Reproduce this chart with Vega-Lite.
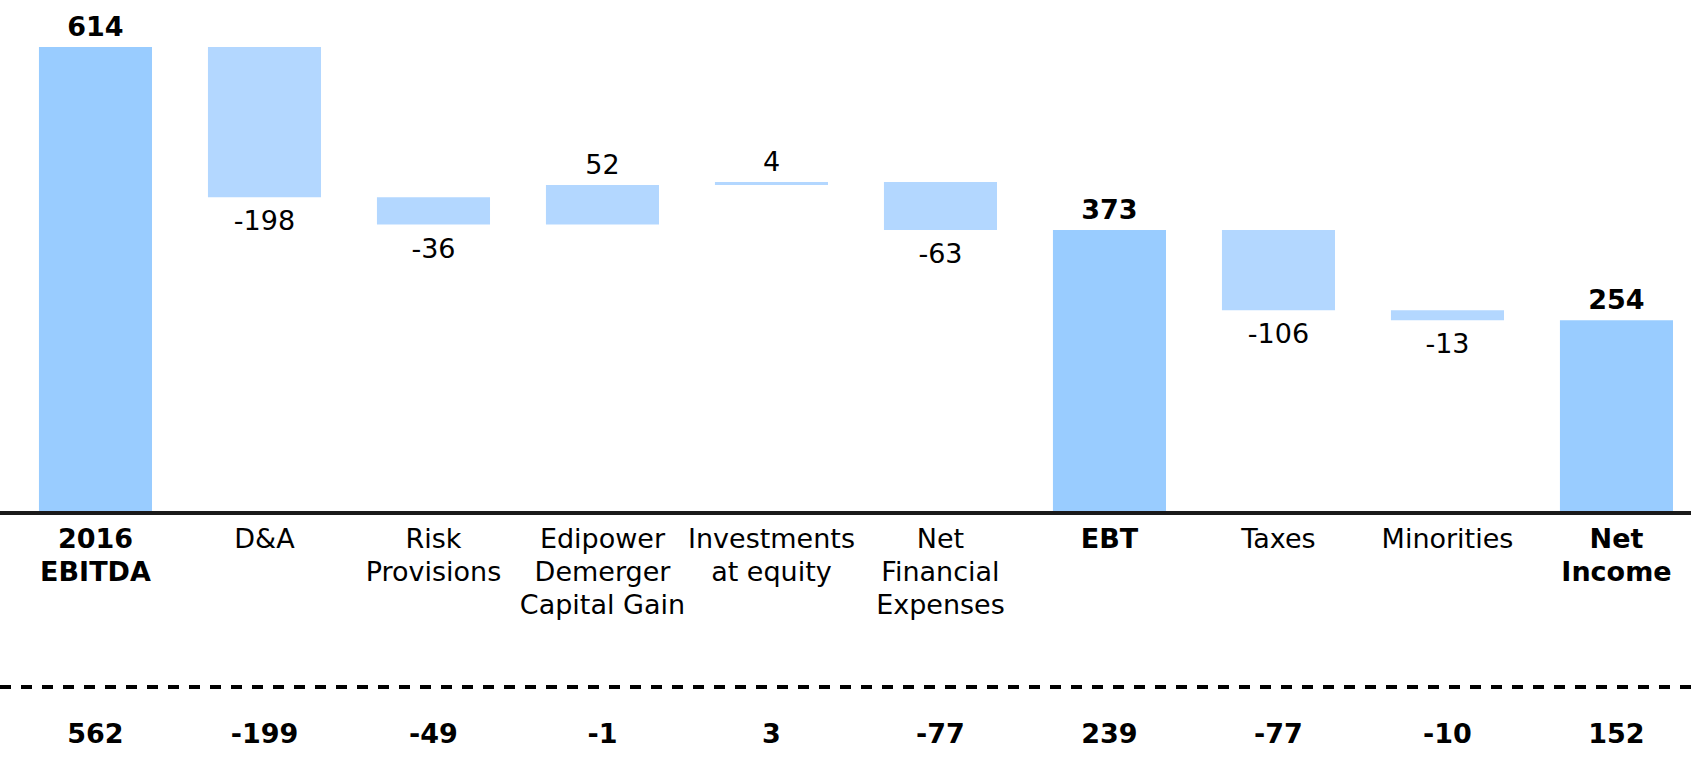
{
  "$schema": "https://vega.github.io/schema/vega-lite/v6.json",
  "width": 1691,
  "height": 769,
  "autosize": {"type": "none"},
  "padding": 0,
  "background": "white",
  "config": {
    "view": {"stroke": null},
    "text": {"font": "DejaVu Sans", "fontSize": 27, "color": "#000000"}
  },
  "data": {"values": [
      {"cat": "2016 EBITDA", "lab": "2016\nEBITDA", "start": 0, "end": 614, "val": "614", "prev": "562", "kind": "total", "sign": "pos"},
      {"cat": "D&A", "lab": "D&A", "start": 614, "end": 416, "val": "-198", "prev": "-199", "kind": "delta", "sign": "neg"},
      {"cat": "Risk Provisions", "lab": "Risk\nProvisions", "start": 416, "end": 380, "val": "-36", "prev": "-49", "kind": "delta", "sign": "neg"},
      {"cat": "Edipower Demerger Capital Gain", "lab": "Edipower\nDemerger\nCapital Gain", "start": 380, "end": 432, "val": "52", "prev": "-1", "kind": "delta", "sign": "pos"},
      {"cat": "Investments at equity", "lab": "Investments\nat equity", "start": 432, "end": 436, "val": "4", "prev": "3", "kind": "delta", "sign": "pos"},
      {"cat": "Net Financial Expenses", "lab": "Net\nFinancial\nExpenses", "start": 436, "end": 373, "val": "-63", "prev": "-77", "kind": "delta", "sign": "neg"},
      {"cat": "EBT", "lab": "EBT", "start": 0, "end": 373, "val": "373", "prev": "239", "kind": "total", "sign": "pos"},
      {"cat": "Taxes", "lab": "Taxes", "start": 373, "end": 267, "val": "-106", "prev": "-77", "kind": "delta", "sign": "neg"},
      {"cat": "Minorities", "lab": "Minorities", "start": 267, "end": 254, "val": "-13", "prev": "-10", "kind": "delta", "sign": "neg"},
      {"cat": "Net Income", "lab": "Net\nIncome", "start": 0, "end": 254, "val": "254", "prev": "152", "kind": "total", "sign": "pos"}
  ]},
  "layer": [
    {
      "mark": {"type": "bar"},
      "encoding": {
        "x": {"field": "cat", "type": "nominal", "sort": null, "axis": null,
              "scale": {"paddingInner": 0.331, "paddingOuter": 0.1685, "align": 0.684}},
        "y": {"field": "start", "type": "quantitative", "axis": null,
              "scale": {"domain": [-337.3, 675.9], "nice": false, "zero": false}},
        "y2": {"field": "end"},
        "color": {"field": "kind", "type": "nominal", "legend": null,
                  "scale": {"domain": ["total", "delta"], "range": ["#99CCFF", "#B3D7FF"]}}
      }
    },
    {
      "mark": {"type": "text", "fontWeight": "bold", "baseline": "alphabetic", "dy": -11},
      "encoding": {
        "x": {"field": "cat", "type": "nominal", "sort": null},
        "y": {"field": "end", "type": "quantitative"},
        "text": {"condition": {"test": "datum.kind === 'total'", "field": "val"}, "value": ""}
      }
    },
    {
      "mark": {"type": "text", "baseline": "alphabetic", "dy": -11},
      "encoding": {
        "x": {"field": "cat", "type": "nominal", "sort": null},
        "y": {"field": "end", "type": "quantitative"},
        "text": {"condition": {"test": "datum.kind === 'delta' && datum.sign === 'pos'", "field": "val"}, "value": ""}
      }
    },
    {
      "mark": {"type": "text", "baseline": "alphabetic", "dy": 33},
      "encoding": {
        "x": {"field": "cat", "type": "nominal", "sort": null},
        "y": {"field": "end", "type": "quantitative"},
        "text": {"condition": {"test": "datum.kind === 'delta' && datum.sign === 'neg'", "field": "val"}, "value": ""}
      }
    },
    {
      "mark": {"type": "text", "fontWeight": "bold", "baseline": "alphabetic", "dy": 35, "lineBreak": "\n", "lineHeight": 33},
      "encoding": {
        "x": {"field": "cat", "type": "nominal", "sort": null},
        "y": {"datum": 0},
        "text": {"condition": {"test": "datum.kind === 'total'", "field": "lab"}, "value": ""}
      }
    },
    {
      "mark": {"type": "text", "baseline": "alphabetic", "dy": 35, "lineBreak": "\n", "lineHeight": 33},
      "encoding": {
        "x": {"field": "cat", "type": "nominal", "sort": null},
        "y": {"datum": 0},
        "text": {"condition": {"test": "datum.kind === 'delta'", "field": "lab"}, "value": ""}
      }
    },
    {
      "mark": {"type": "text", "fontWeight": "bold", "baseline": "alphabetic"},
      "encoding": {
        "x": {"field": "cat", "type": "nominal", "sort": null},
        "y": {"datum": -303.0},
        "text": {"field": "prev"}
      }
    },
    {
      "mark": {"type": "rule", "color": "#1a1a1a", "strokeWidth": 3},
      "encoding": {"y": {"datum": 0}}
    },
    {
      "mark": {"type": "rule", "color": "#000000", "strokeWidth": 3, "strokeDash": [11, 10]},
      "encoding": {"y": {"datum": -229.2}}
    }
  ]
}
